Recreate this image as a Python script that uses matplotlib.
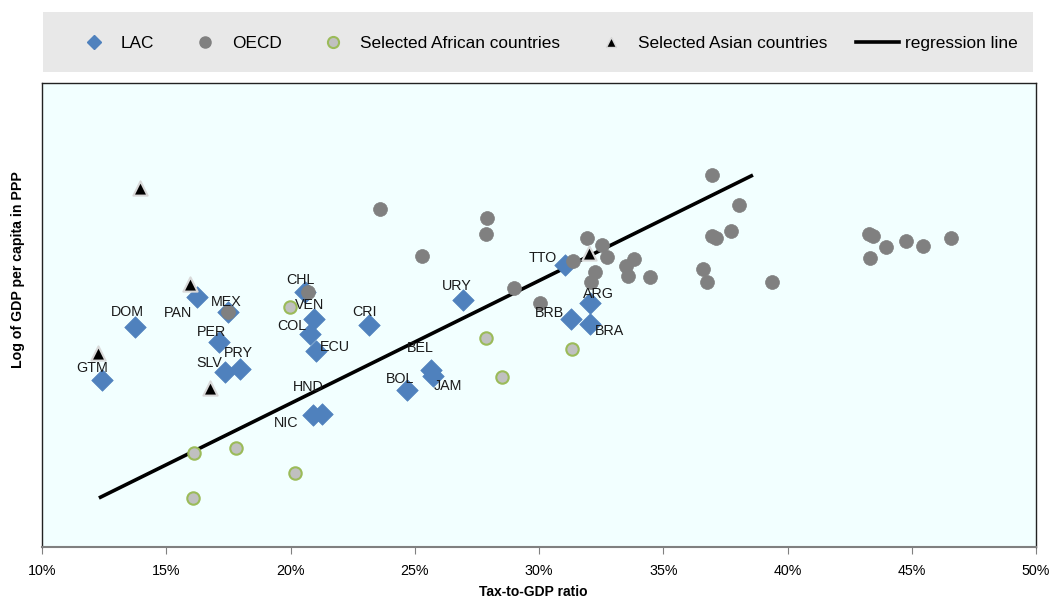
import matplotlib
matplotlib.use("Agg")
import matplotlib.pyplot as plt
from matplotlib.patches import Rectangle
from matplotlib.lines import Line2D
from matplotlib.ticker import FuncFormatter

plt.rcParams['font.family'] = ['Liberation Sans', 'DejaVu Sans']

# LAC countries: tax-to-GDP ratio (%) and log GDP per capita (PPP)
lac_codes = ['GTM', 'DOM', 'PAN', 'MEX', 'PER', 'SLV', 'PRY', 'CHL', 'VEN', 'COL', 'ECU',
             'CRI', 'URY', 'HND', 'NIC', 'BOL', 'BEL', 'JAM', 'TTO', 'ARG', 'BRB', 'BRA']
lac_tax = [12.41, 13.74, 16.24, 17.48, 17.12, 17.36, 17.97, 20.58, 20.95, 20.78, 21.03,
           23.16, 26.94, 21.27, 20.91, 24.69, 25.65, 25.73, 31.05, 32.05, 31.29, 32.05]
lac_gdp = [8.67, 9.20, 9.50, 9.35, 9.05, 8.75, 8.78, 9.55, 9.28, 9.13, 8.96,
           9.22, 9.47, 8.33, 8.32, 8.57, 8.77, 8.71, 9.82, 9.44, 9.28, 9.23]

# OECD countries
oecd_tax = [17.48, 20.70, 23.60, 25.29, 27.91, 27.87, 28.99, 30.04, 31.37, 31.93, 32.54,
            32.74, 32.25, 32.09, 33.50, 33.82, 33.58, 34.47, 36.60, 36.76, 36.96, 36.96,
            37.12, 37.73, 38.05, 39.38, 43.28, 43.44, 43.96, 44.77, 45.45, 46.58, 43.32]
oecd_gdp = [9.35, 9.55, 10.38, 9.91, 10.29, 10.13, 9.59, 9.44, 9.86, 10.09, 10.02,
            9.90, 9.75, 9.65, 9.81, 9.88, 9.71, 9.70, 9.78, 9.65, 10.72, 10.11,
            10.09, 10.16, 10.42, 9.65, 10.13, 10.11, 10.00, 10.06, 10.01, 10.09, 9.89]

# Selected African countries
afr_tax = [19.98, 27.87, 28.51, 31.33, 16.12, 17.81, 20.18, 16.08]
afr_gdp = [9.40, 9.09, 8.70, 8.98, 7.94, 7.99, 7.74, 7.49]

# Selected Asian countries
asia_tax = [13.94, 15.96, 12.25, 16.76, 32.01]
asia_gdp = [10.59, 9.63, 8.94, 8.59, 9.94]

# regression line
reg_slope = 0.1227
reg_intercept = 5.982
reg_x = [12.29, 38.61]

# label offsets (pixels) for LAC codes
label_offsets = {
    'GTM': (-10, 12), 'DOM': (-8, 15), 'PAN': (-19, -16), 'MEX': (-2, 10),
    'PER': (-7, 10), 'SLV': (-16, 9), 'PRY': (-2, 16), 'CHL': (-4, 12),
    'VEN': (-5, 14), 'COL': (-18, 8), 'ECU': (19, 4), 'CRI': (-5, 13),
    'URY': (-6, 14), 'HND': (-14, 27), 'NIC': (-27, -8), 'BOL': (-7, 11),
    'BEL': (-11, 22), 'JAM': (15, -10), 'TTO': (-22, 7), 'ARG': (9, 9),
    'BRB': (-22, 6), 'BRA': (20, -7),
}

W, H = 1049, 601
fig = plt.figure(figsize=(W / 100, H / 100), dpi=100)
ax = fig.add_axes([42 / W, (H - 547) / H, (1036 - 42) / W, (547 - 83) / H])
ax.set_facecolor('#F2FFFF')

reg_y = [reg_slope * x + reg_intercept for x in reg_x]
ax.plot(reg_x, reg_y, color='black', lw=2.6, zorder=2, solid_capstyle='butt')

ax.scatter(lac_tax, lac_gdp, marker='D', s=120, color='#4F81BD', edgecolors='#4F81BD',
           linewidths=0.5, zorder=3)
ax.scatter(oecd_tax, oecd_gdp, marker='o', s=100, color='#808080', edgecolors='#808080',
           linewidths=0.5, zorder=4)
ax.scatter(afr_tax, afr_gdp, marker='o', s=80, color='#C0C0C0', edgecolors='#9BBB59',
           linewidths=1.5, zorder=5)
ax.scatter(asia_tax, asia_gdp, marker='^', s=105, color='black', edgecolors='#D9D9D9',
           linewidths=1.5, zorder=6)

for code, x, y in zip(lac_codes, lac_tax, lac_gdp):
    dx, dy = label_offsets[code]
    ax.annotate(code, (x, y), xytext=(dx, dy), textcoords='offset pixels',
                ha='center', va='center', fontsize=10.3, color='#1a1a1a', zorder=7)

ax.set_xlim(10, 50)
ax.set_ylim(7.0, 11.64)
ax.set_xticks(range(10, 51, 5))
ax.xaxis.set_major_formatter(FuncFormatter(lambda v, p: f'{v:.0f}%'))
ax.set_yticks([])
ax.tick_params(axis='x', direction='out', length=5, color='#808080', labelsize=10.3, pad=7)
for side in ['left', 'top', 'right']:
    ax.spines[side].set_color('#222222')
    ax.spines[side].set_linewidth(1.0)
ax.spines['bottom'].set_color('#808080')
ax.spines['bottom'].set_linewidth(1.5)

ax.set_xlabel('Tax-to-GDP ratio', fontsize=10, fontweight='bold')
ax.xaxis.set_label_coords(0.494, -0.097)
ax.set_ylabel('Log of GDP per capita in PPP', fontsize=10.2, fontweight='bold')
ax.yaxis.set_label_coords(-0.024, 0.597)
ax.xaxis.label.set_va('center')
ax.yaxis.label.set_va('center')

# legend band
fig.patches.append(Rectangle((43 / W, (H - 72) / H), (1033 - 43) / W, 60 / H,
                             transform=fig.transFigure, facecolor='#E8E8E8',
                             edgecolor='none', zorder=0))
handles = [
    Line2D([], [], ls='none', marker='D', ms=7, color='#4F81BD'),
    Line2D([], [], ls='none', marker='o', ms=8, color='#808080'),
    Line2D([], [], ls='none', marker='o', ms=8, markerfacecolor='#C0C0C0',
           markeredgecolor='#9BBB59', markeredgewidth=1.5),
    Line2D([], [], ls='none', marker='^', ms=7, markerfacecolor='black',
           markeredgecolor='#D9D9D9'),
    Line2D([], [], color='black', lw=2.6),
]
labels = ['LAC', 'OECD', 'Selected African countries', 'Selected Asian countries',
          'regression line']
fig.legend(handles, labels, loc='center', bbox_to_anchor=(545 / W, (H - 43) / H),
           ncol=5, frameon=False, fontsize=12.4, handlelength=2.5, handletextpad=0.32,
           columnspacing=1.7, borderpad=0, borderaxespad=0)

fig.savefig('out.png', dpi=100)
